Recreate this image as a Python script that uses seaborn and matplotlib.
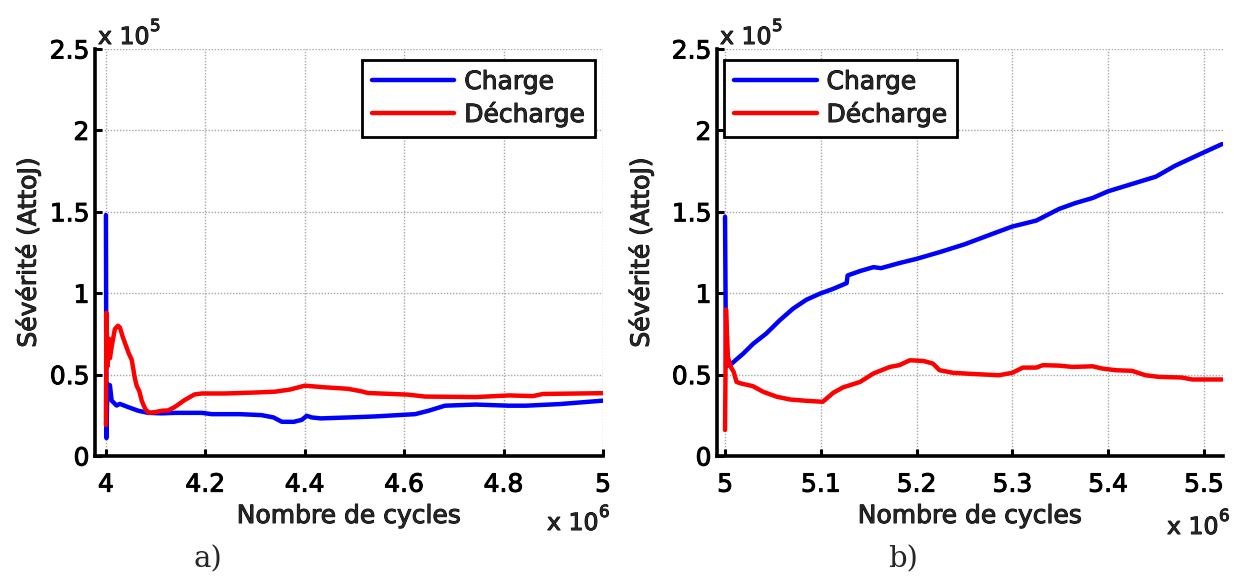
import numpy as np
import pandas as pd
import matplotlib
matplotlib.use("Agg")
import matplotlib.pyplot as plt
import matplotlib.patheffects as pe
from matplotlib.ticker import FuncFormatter
import seaborn as sns

# ---------------- data (x in units of 1e6 cycles, y in units of 1e5 AttoJ) ----------------
a_charge_x = [4.000, 4.001, 4.003, 4.008, 4.0115, 4.0215, 4.028, 4.045, 4.065, 4.085, 4.112,
              4.139, 4.193, 4.213, 4.27, 4.313, 4.337, 4.354, 4.378, 4.394, 4.404, 4.414,
              4.432, 4.50, 4.541, 4.622, 4.649, 4.682, 4.744, 4.81, 4.845, 4.913, 5.0]
a_charge_y = [1.48, 0.11, 0.44, 0.435, 0.34, 0.31, 0.32, 0.30, 0.278, 0.265, 0.262,
              0.265, 0.265, 0.257, 0.257, 0.251, 0.237, 0.21, 0.21, 0.222, 0.247, 0.237,
              0.231, 0.238, 0.243, 0.257, 0.278, 0.309, 0.316, 0.309, 0.309, 0.319, 0.34]

a_decharge_x = [4.000, 4.001, 4.003, 4.006, 4.008, 4.012, 4.018, 4.024, 4.028, 4.034, 4.040,
                4.046, 4.052, 4.058, 4.062, 4.067, 4.072, 4.076, 4.080, 4.087, 4.10, 4.112,
                4.125, 4.138, 4.158, 4.178, 4.193, 4.24, 4.30, 4.34, 4.37, 4.40, 4.44,
                4.486, 4.513, 4.527, 4.608, 4.642, 4.744, 4.811, 4.859, 4.879, 5.0]
a_decharge_y = [0.19, 0.88, 0.55, 0.72, 0.60, 0.68, 0.78, 0.80, 0.79, 0.73, 0.68,
                0.63, 0.59, 0.48, 0.43, 0.40, 0.34, 0.31, 0.285, 0.265, 0.27, 0.278,
                0.28, 0.30, 0.343, 0.378, 0.384, 0.384, 0.39, 0.395, 0.408, 0.432, 0.422,
                0.413, 0.398, 0.387, 0.377, 0.365, 0.362, 0.372, 0.368, 0.381, 0.386]

b_charge_x = [5.000, 5.001, 5.007, 5.019, 5.0295, 5.043, 5.057, 5.071, 5.085, 5.099, 5.113,
              5.127, 5.128, 5.141, 5.155, 5.163, 5.182, 5.2, 5.224, 5.25, 5.279, 5.2997,
              5.325, 5.349, 5.366, 5.384, 5.4, 5.425, 5.45, 5.47, 5.5, 5.519]
b_charge_y = [1.47, 0.55, 0.568, 0.629, 0.69, 0.752, 0.833, 0.905, 0.96, 0.997, 1.027,
              1.062, 1.109, 1.136, 1.16, 1.154, 1.185, 1.211, 1.252, 1.30, 1.364, 1.409,
              1.446, 1.518, 1.554, 1.585, 1.626, 1.671, 1.716, 1.783, 1.865, 1.916]

b_decharge_x = [5.000, 5.001, 5.003, 5.006, 5.009, 5.012, 5.017, 5.029, 5.04, 5.054, 5.068,
                5.085, 5.102, 5.113, 5.123, 5.141, 5.155, 5.172, 5.182, 5.193, 5.207, 5.217,
                5.224, 5.238, 5.255, 5.286, 5.3, 5.311, 5.325, 5.332, 5.349, 5.363, 5.384,
                5.394, 5.408, 5.425, 5.439, 5.453, 5.477, 5.488, 5.519]
b_decharge_y = [0.16, 0.90, 0.608, 0.547, 0.517, 0.455, 0.445, 0.429, 0.394, 0.364, 0.347,
                0.339, 0.333, 0.388, 0.421, 0.455, 0.507, 0.547, 0.558, 0.588, 0.584, 0.568,
                0.527, 0.511, 0.505, 0.496, 0.511, 0.543, 0.543, 0.558, 0.555, 0.547, 0.551,
                0.537, 0.527, 0.523, 0.496, 0.486, 0.482, 0.47, 0.47]

series_names = ["Charge", "Décharge"]
series_colors = ["#0000ff", "#ff0000"]
a_xticks = [4, 4.2, 4.4, 4.6, 4.8, 5]
b_xticks = [5, 5.1, 5.2, 5.3, 5.4, 5.5]
yticks = [0, 0.5, 1, 1.5, 2, 2.5]
xlabel = "Nombre de cycles"
ylabel = "Sévérité (AttoJ)"
captions = ["a)", "b)"]

# ---------------- figure ----------------
sns.set_style("white")
plt.rcParams["font.family"] = ["DejaVu Sans"]
W, H = 1234, 576
fig = plt.figure(figsize=(W / 100, H / 100), dpi=100)
heavy = [pe.withStroke(linewidth=0.7, foreground="black")]

def frame(px_left, px_right, px_top=49, px_bottom=456):
    return [px_left / W, 1 - px_bottom / H, (px_right - px_left) / W, (px_bottom - px_top) / H]

ax1 = fig.add_axes(frame(95, 603))
ax2 = fig.add_axes(frame(717, 1223))

def df_of(cx, cy, dx, dy):
    return pd.concat([
        pd.DataFrame({"x": cx, "y": cy, "serie": series_names[0]}),
        pd.DataFrame({"x": dx, "y": dy, "serie": series_names[1]}),
    ], ignore_index=True)

panels = [
    (ax1, df_of(a_charge_x, a_charge_y, a_decharge_x, a_decharge_y), (3.978, 5.0), a_xticks),
    (ax2, df_of(b_charge_x, b_charge_y, b_decharge_x, b_decharge_y), (4.9916, 5.52), b_xticks),
]

fmt = FuncFormatter(lambda v, p: f"{v:g}")
for ax, df, xl, xt in panels:
    sns.lineplot(data=df, x="x", y="y", hue="serie", palette=series_colors,
                 sort=False, estimator=None, linewidth=3.2, ax=ax)
    ax.set_xlim(*xl)
    ax.set_ylim(0, 2.5)
    ax.set_xticks(xt)
    ax.set_yticks(yticks)
    ax.xaxis.set_major_formatter(fmt)
    ax.yaxis.set_major_formatter(fmt)
    ax.grid(True, linestyle=(0, (1, 1.2)), color="#a8a8a8", linewidth=1.0)
    for s in ["top", "right"]:
        ax.spines[s].set_visible(False)
    for s in ["left", "bottom"]:
        ax.spines[s].set_color("black")
        ax.spines[s].set_linewidth(2.6)
    ax.tick_params(axis="both", direction="in", length=5, width=2.2, labelsize=18,
                   colors="black", left=True, bottom=True)
    ax.tick_params(axis="y", pad=4)
    ax.tick_params(axis="x", pad=12)
    ax.set_xlabel(xlabel, fontsize=18)
    ax.set_ylabel(ylabel, fontsize=18)
    ax.xaxis.label.set_va("center")
    ax.yaxis.label.set_va("center")
    ax.set_axisbelow(True)
    for t in ax.get_xticklabels() + ax.get_yticklabels() + [ax.xaxis.label, ax.yaxis.label]:
        t.set_path_effects(heavy)

ax1.xaxis.set_label_coords(0.5, -(516 - 456) / 407)
ax2.xaxis.set_label_coords(0.5, -(516 - 456) / 407)
ax1.yaxis.set_label_coords(-(95 - 28) / 508, 0.5)
ax2.yaxis.set_label_coords(-(717 - 641) / 506, 0.5)

leg_kw = dict(fontsize=18, frameon=True, fancybox=False, edgecolor="black", framealpha=1,
              handlelength=3.3, handletextpad=0.4, borderpad=0.4, labelspacing=0.3,
              borderaxespad=0)
h, l = ax1.get_legend_handles_labels()
lg1 = ax1.legend(h, l, loc="upper right", bbox_to_anchor=((595 - 95) / 508, (456 - 60) / 407), **leg_kw)
h, l = ax2.get_legend_handles_labels()
lg2 = ax2.legend(h, l, loc="upper left", bbox_to_anchor=((724 - 717) / 506, (456 - 60) / 407), **leg_kw)
for lg in (lg1, lg2):
    lg.get_frame().set_linewidth(2)
    for ln in lg.get_lines():
        ln.set_linewidth(3.2)
    for t in lg.get_texts():
        t.set_path_effects(heavy)

# multiplier texts
def mult(x_px, y_px, exp):
    t1 = fig.text(x_px / W, 1 - y_px / H, "x 10", fontsize=17, ha="left", va="baseline")
    t2 = fig.text((x_px + 52) / W, 1 - (y_px - 13) / H, exp, fontsize=12, ha="left", va="baseline")
    t1.set_path_effects(heavy)
    t2.set_path_effects(heavy)

mult(98, 44, "5")
mult(720, 44, "5")
mult(547, 530, "6")
mult(1167, 534, "6")

fig.text(208 / W, 1 - 559 / H, captions[0], fontsize=21, family="DejaVu Serif", ha="center", va="center")
fig.text(903 / W, 1 - 559 / H, captions[1], fontsize=21, family="DejaVu Serif", ha="center", va="center")

fig.savefig("out.png", dpi=100)
